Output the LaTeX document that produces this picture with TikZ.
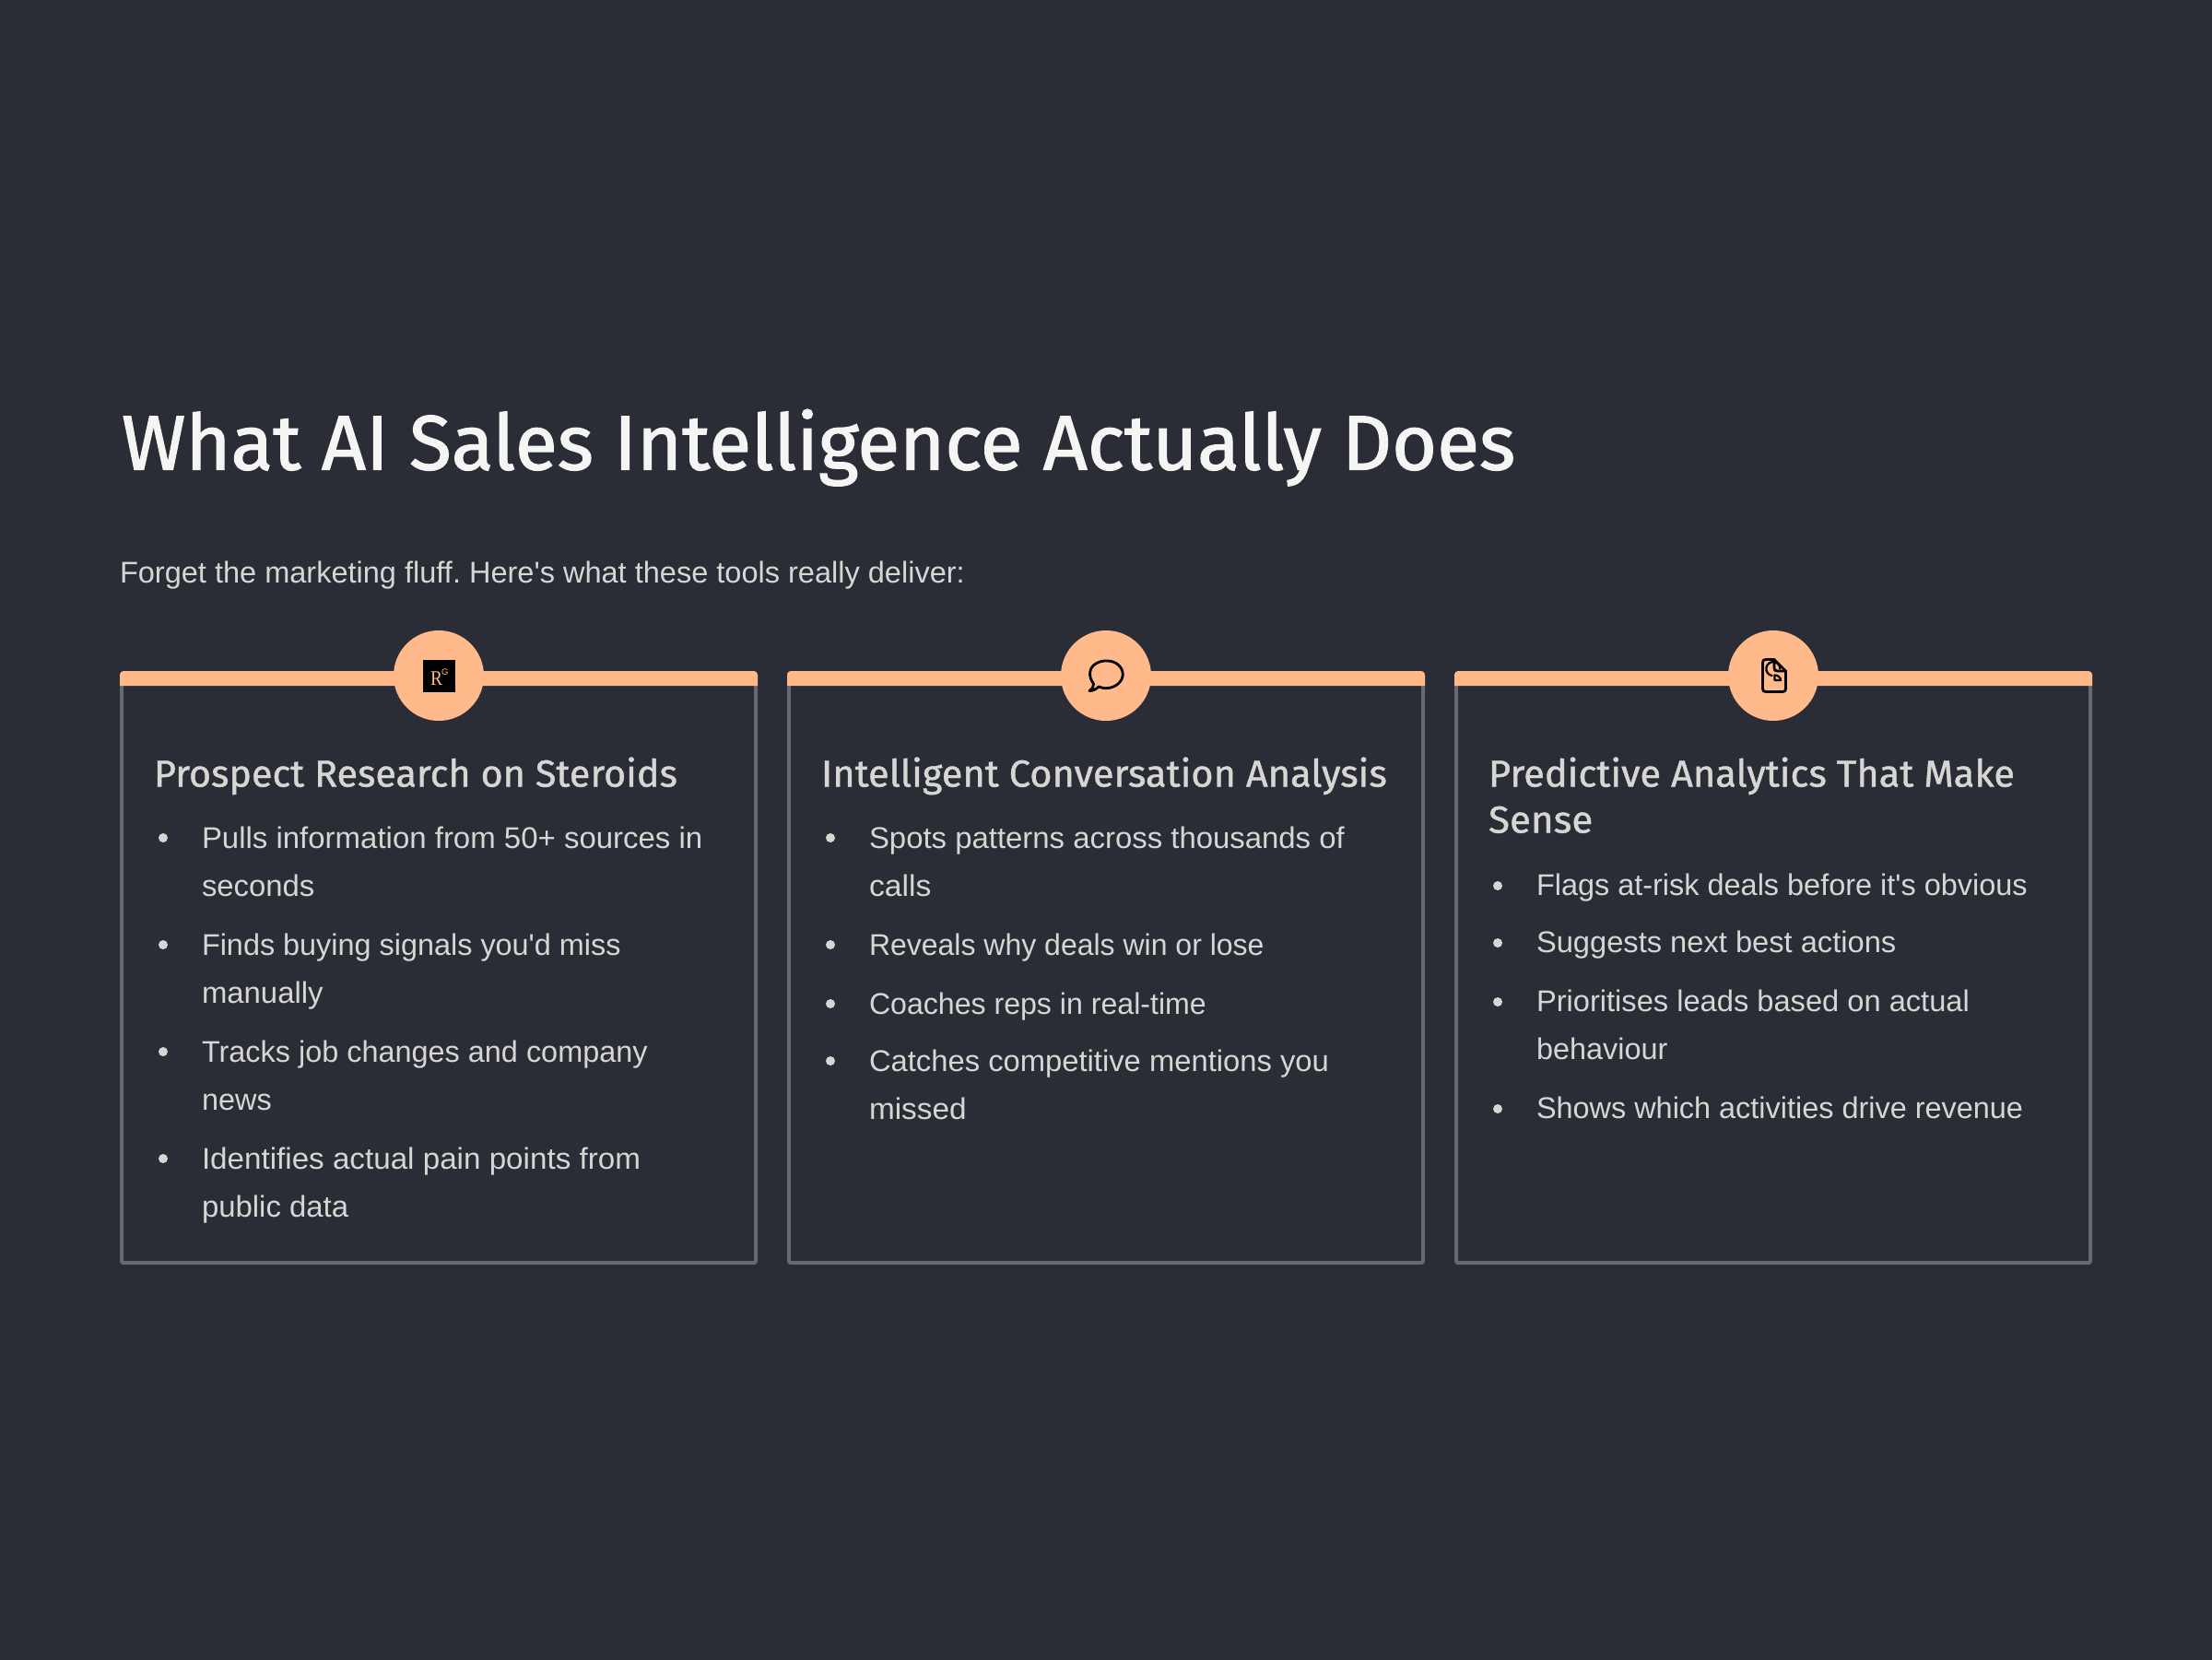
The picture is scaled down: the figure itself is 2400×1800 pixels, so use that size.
\documentclass[tikz,border=0pt]{standalone}
\usepackage{fontspec}
\usepackage{graphicx}
\setmainfont{Liberation Sans}
\newfontfamily\titlef[FakeBold=1.4]{Fira Sans}
\newfontfamily\headf[FakeBold=1.0]{Fira Sans}
\newfontfamily\bodyf{Liberation Sans}
\newfontfamily\serf{Liberation Serif}
\definecolor{bgc}{HTML}{2A2D35}
\definecolor{peach}{HTML}{FFB98A}
\definecolor{edgec}{HTML}{666970}
\definecolor{titlec}{HTML}{F5F5F3}
\definecolor{bodyc}{HTML}{D6D6D2}
% fit a line of text to a width given in the 1568-wide scale
\newcommand{\fitw}[2]{\pgfmathsetlengthmacro{\fitlen}{#1*1.5306pt}\resizebox{\fitlen}{\height}{#2}}
\tikzset{
 txt/.style={anchor=base west,inner sep=0pt,outer sep=0pt},
 titletxt/.style={txt,text=titlec,font=\frenchspacing\titlef\fontsize{84}{96}\selectfont},
 subtxt/.style={txt,text=bodyc,font=\frenchspacing\bodyf\fontsize{32.5}{40}\selectfont},
 headtxt/.style={txt,text=bodyc,font=\frenchspacing\headf\fontsize{41}{50}\selectfont},
 itemtxt/.style={txt,text=bodyc,font=\frenchspacing\bodyf\fontsize{32.5}{40}\selectfont},
 cardbox/.style={anchor=north west,draw=edgec,line width=4pt,fill=bgc,rounded corners=2pt,minimum width=688pt,minimum height=638pt,inner sep=0pt,outer sep=0pt},
 barfill/.style={fill=peach},
 disc/.style={circle,fill=peach,minimum size=98pt,inner sep=0pt,outer sep=0pt},
 dotb/.style={circle,fill=bodyc,minimum size=10pt,inner sep=0pt,outer sep=0pt},
 icon/.style={draw=black,line width=2.8pt,line join=round,line cap=round},
 iconthin/.style={draw=black,line width=2.2pt,line join=round,line cap=round},
}
\begin{document}
\begin{tikzpicture}[x=1pt,y=-1pt]
\useasboundingbox (0,0) rectangle (2400,1800);
\fill[bgc] (-10,-10) rectangle (2410,1810);
\node[titletxt] (title) at (132,509.5) {\fitw{988}{What AI Sales Intelligence Actually Does}};
\node[subtxt] (sub) at (130,632) {\fitw{599}{Forget the marketing fluff. Here's what these tools really deliver:}};
% cards
\node[cardbox] (c1) at (132,732) {};
\node[cardbox] (c2) at (856,732) {};
\node[cardbox] (c3) at (1580,732) {};
\fill[barfill] (130,744) [rounded corners=4pt] -- (130,728) -- (822,728) [sharp corners] -- (822,744) -- cycle;
\fill[barfill] (854,744) [rounded corners=4pt] -- (854,728) -- (1546,728) [sharp corners] -- (1546,744) -- cycle;
\fill[barfill] (1578,744) [rounded corners=4pt] -- (1578,728) -- (2270,728) [sharp corners] -- (2270,744) -- cycle;
\node[disc] (d1) at (476,733) {};
\node[disc] (d2) at (1200,733) {};
\node[disc] (d3) at (1924,733) {};
% icon 1
\node[anchor=north west,fill=black,minimum size=35pt,inner sep=0pt,outer sep=0pt] (i1) at (459,716) {};
\node[txt,text=peach,font=\serf\fontsize{22.5}{22}\selectfont] (i1r) at (467,743) {\resizebox{13pt}{\height}{R}};
\node[txt,text=peach,font=\bodyf\fontsize{9.5}{9}\selectfont] (i1g) at (479,732) {G};
% icon 2
\draw[icon] (1186.5,742) .. controls (1180,733) and (1182,724) .. (1189,720) .. controls (1196,715.5) and (1207,716) .. (1213,721) .. controls (1220,727) and (1220,736) .. (1213,742) .. controls (1207,747) and (1198,748) .. (1192,745) .. controls (1189,748) and (1186,749.5) .. (1182,749.5) .. controls (1185,747) and (1187,745) .. (1186.5,742) -- cycle;
% icon 3
\draw[icon] (1916,715.5) -- (1925,715.5) -- (1937.5,728) -- (1937.5,747) .. controls (1937.5,749.5) and (1936.5,750.5) .. (1934,750.5) -- (1916,750.5) .. controls (1913.5,750.5) and (1912.5,749.5) .. (1912.5,747) -- (1912.5,719) .. controls (1912.5,716.5) and (1913.5,715.5) .. (1916,715.5) -- cycle;
\draw[icon] (1925,715.5) -- (1925,724.5) .. controls (1925,727) and (1926,728) .. (1928.5,728) -- (1937.5,728);
\draw[iconthin] (1922.5,733) arc[start angle=100,end angle=360,radius=7.5];
\draw[iconthin] (1925.5,732.5) -- (1925.5,738) -- (1932,738) .. controls (1932,735) and (1929,732.5) .. (1925.5,732.5) -- cycle;
% card 1
\node[headtxt] (h1) at (167,853.5) {\fitw{371}{Prospect Research on Steroids}};
\node[dotb] (p1) at (177,909) {};
\node[itemtxt] (t1a) at (219,920) {\fitw{355}{Pulls information from 50+ sources in}};
\node[itemtxt] (t1b) at (219,972) {\fitw{80}{seconds}};
\node[dotb] (p2) at (177,1025) {};
\node[itemtxt] (t1c) at (219,1036) {\fitw{297}{Finds buying signals you'd miss}};
\node[itemtxt] (t1d) at (219,1088) {\fitw{86}{manually}};
\node[dotb] (p3) at (177,1141) {};
\node[itemtxt] (t1e) at (219,1152) {\fitw{316}{Tracks job changes and company}};
\node[itemtxt] (t1f) at (219,1204) {\fitw{49.5}{news}};
\node[dotb] (p4) at (177,1257) {};
\node[itemtxt] (t1g) at (219,1268) {\fitw{311}{Identifies actual pain points from}};
\node[itemtxt] (t1h) at (219,1320) {\fitw{104}{public data}};
% card 2
\node[headtxt] (h2) at (891,853.5) {\fitw{401}{Intelligent Conversation Analysis}};
\node[dotb] (q1) at (901,909) {};
\node[itemtxt] (t2a) at (943,920) {\fitw{337}{Spots patterns across thousands of}};
\node[itemtxt] (t2b) at (943,972) {\fitw{44}{calls}};
\node[dotb] (q2) at (901,1025) {};
\node[itemtxt] (t2c) at (943,1036) {\fitw{280}{Reveals why deals win or lose}};
\node[dotb] (q3) at (901,1089) {};
\node[itemtxt] (t2d) at (943,1100) {\fitw{239}{Coaches reps in real-time}};
\node[dotb] (q4) at (901,1151) {};
\node[itemtxt] (t2e) at (943,1162) {\fitw{326}{Catches competitive mentions you}};
\node[itemtxt] (t2f) at (943,1214) {\fitw{69}{missed}};
% card 3
\node[headtxt] (h3a) at (1615,853.5) {\fitw{373}{Predictive Analytics That Make}};
\node[headtxt] (h3b) at (1615,903.5) {\fitw{74}{Sense}};
\node[dotb] (r1) at (1625,961) {};
\node[itemtxt] (t3a) at (1667,971.5) {\fitw{348}{Flags at-risk deals before it's obvious}};
\node[dotb] (r2) at (1625,1023) {};
\node[itemtxt] (t3b) at (1667,1033.5) {\fitw{255}{Suggests next best actions}};
\node[dotb] (r3) at (1625,1087) {};
\node[itemtxt] (t3c) at (1667,1097.5) {\fitw{307}{Prioritises leads based on actual}};
\node[itemtxt] (t3d) at (1667,1149.5) {\fitw{93}{behaviour}};
\node[dotb] (r4) at (1625,1203) {};
\node[itemtxt] (t3e) at (1667,1213.5) {\fitw{345}{Shows which activities drive revenue}};
\end{tikzpicture}
\end{document}
